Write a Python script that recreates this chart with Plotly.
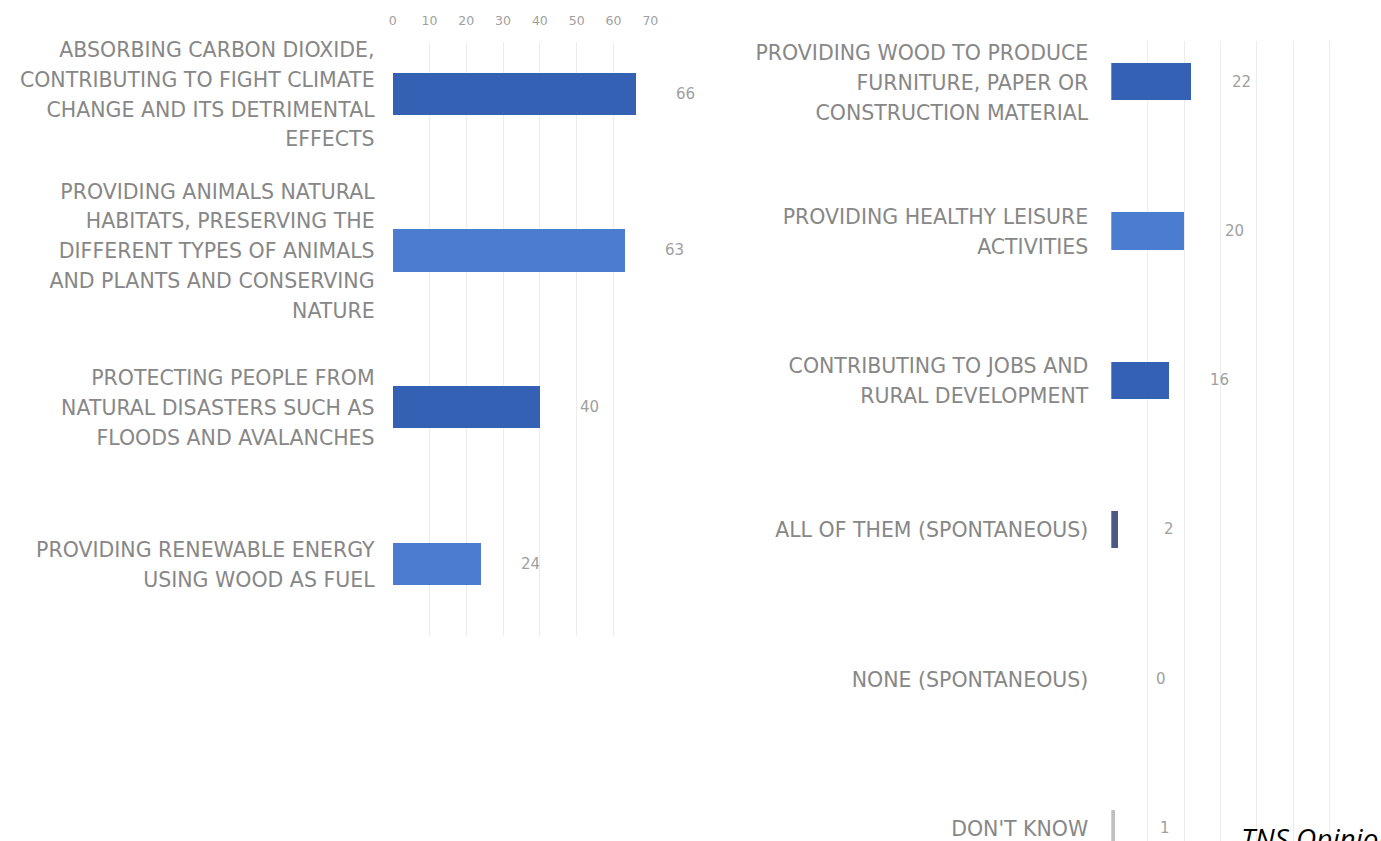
import plotly.graph_objects as go

# ---- data ----
left_labels = [
    "ABSORBING CARBON DIOXIDE,<br>CONTRIBUTING TO FIGHT CLIMATE<br>CHANGE AND ITS DETRIMENTAL<br>EFFECTS",
    "PROVIDING ANIMALS NATURAL<br>HABITATS, PRESERVING THE<br>DIFFERENT TYPES OF ANIMALS<br>AND PLANTS AND CONSERVING<br>NATURE",
    "PROTECTING PEOPLE FROM<br>NATURAL DISASTERS SUCH AS<br>FLOODS AND AVALANCHES",
    "PROVIDING RENEWABLE ENERGY<br>USING WOOD AS FUEL",
]
left_values = [66, 63, 40, 24]

right_labels = [
    "PROVIDING WOOD TO PRODUCE<br>FURNITURE, PAPER OR<br>CONSTRUCTION MATERIAL",
    "PROVIDING HEALTHY LEISURE<br>ACTIVITIES",
    "CONTRIBUTING TO JOBS AND<br>RURAL DEVELOPMENT",
    "ALL OF THEM (SPONTANEOUS)",
    "NONE (SPONTANEOUS)",
    "DON'T KNOW",
]
right_values = [22, 20, 16, 2, 0, 1]

x_ticks = [0, 10, 20, 30, 40, 50, 60, 70]
source_text = "TNS Opinion & Social"

# ---- styles ----
DARK = "#3461b3"
LIGHT = "#4a7ccf"
left_colors = [DARK, LIGHT, DARK, LIGHT]
right_colors = [DARK, LIGHT, DARK, "#4a5a86", "#bfbfbf", "#bfbfbf"]
LABEL_GREY = "#878787"
GRID = "#ececec"
W, H = 1381, 841
LABEL_PX = 20.5


def styled(lab):
    return "<br>".join(
        "<span style='font-size:%spx'>%s</span>" % (LABEL_PX, ln) for ln in lab.split("<br>")
    )


fig = go.Figure()
fig.add_trace(go.Bar(
    x=left_values, y=left_labels, orientation="h", width=0.27,
    marker=dict(color=left_colors, line=dict(width=0)),
    xaxis="x", yaxis="y", showlegend=False, hoverinfo="x",
))
fig.add_trace(go.Bar(
    x=right_values, y=right_labels, orientation="h", width=0.25,
    marker=dict(color=right_colors, line=dict(width=0)),
    xaxis="x2", yaxis="y2", showlegend=False, hoverinfo="x",
))

annotations = []
for lab, v in zip(left_labels, left_values):
    annotations.append(dict(x=v, y=lab, xref="x", yref="y", text=str(v), showarrow=False,
                            xshift=50, font=dict(size=15, color="#a0a0a0")))
for lab, v in zip(right_labels, right_values):
    annotations.append(dict(x=v, y=lab, xref="x2", yref="y2", text=str(v), showarrow=False,
                            xshift=50, font=dict(size=15, color="#a0a0a0")))
annotations.append(dict(x=1246 / W, y=0, xref="paper", yref="paper", xanchor="left", yanchor="top",
                        text="<i>" + source_text + "</i>", showarrow=False, yshift=24,
                        font=dict(size=28, color="#000000", family="Open Sans")))

font_family = "DejaVu Sans, Verdana, sans-serif"

fig.update_layout(
    width=W, height=H,
    margin=dict(l=0, r=0, t=0, b=0),
    paper_bgcolor="white", plot_bgcolor="white",
    font=dict(family=font_family, color=LABEL_GREY),
    bargap=0,
    xaxis=dict(domain=[392 / W, 652 / W], range=[0, 70], side="top", tickvals=x_ticks,
               showgrid=True, gridcolor=GRID, zeroline=False, showline=False,
               tickfont=dict(size=12.5, color="#a0a0a0"), anchor="y", ticklabelstandoff=13),
    yaxis=dict(domain=[1 - 635 / H, 1 - 38 / H], range=[3.46, -0.33], type="category",
               categoryorder="array", categoryarray=left_labels,
               tickvals=left_labels, ticktext=[styled(l) for l in left_labels],
               showgrid=False, zeroline=False, showline=False, anchor="x",
               tickfont=dict(size=23, color=LABEL_GREY), ticklabelstandoff=17),
    xaxis2=dict(domain=[1117 / W, 1374 / W], range=[0, 70], side="top", tickvals=x_ticks,
                showticklabels=False, showgrid=True, gridcolor=GRID, zeroline=False,
                showline=False, anchor="y2"),
    yaxis2=dict(domain=[0, 1 - 37 / H], range=[5.087, -0.273], type="category",
                categoryorder="array", categoryarray=right_labels,
                tickvals=right_labels, ticktext=[styled(l) for l in right_labels],
                showgrid=False, zeroline=False, showline=False, anchor="x2",
                tickfont=dict(size=23, color=LABEL_GREY), ticklabelstandoff=22),
    annotations=annotations,
)

fig.write_html("out.html", config={"displayModeBar": False},
               post_script="document.body.style.margin='0';")
